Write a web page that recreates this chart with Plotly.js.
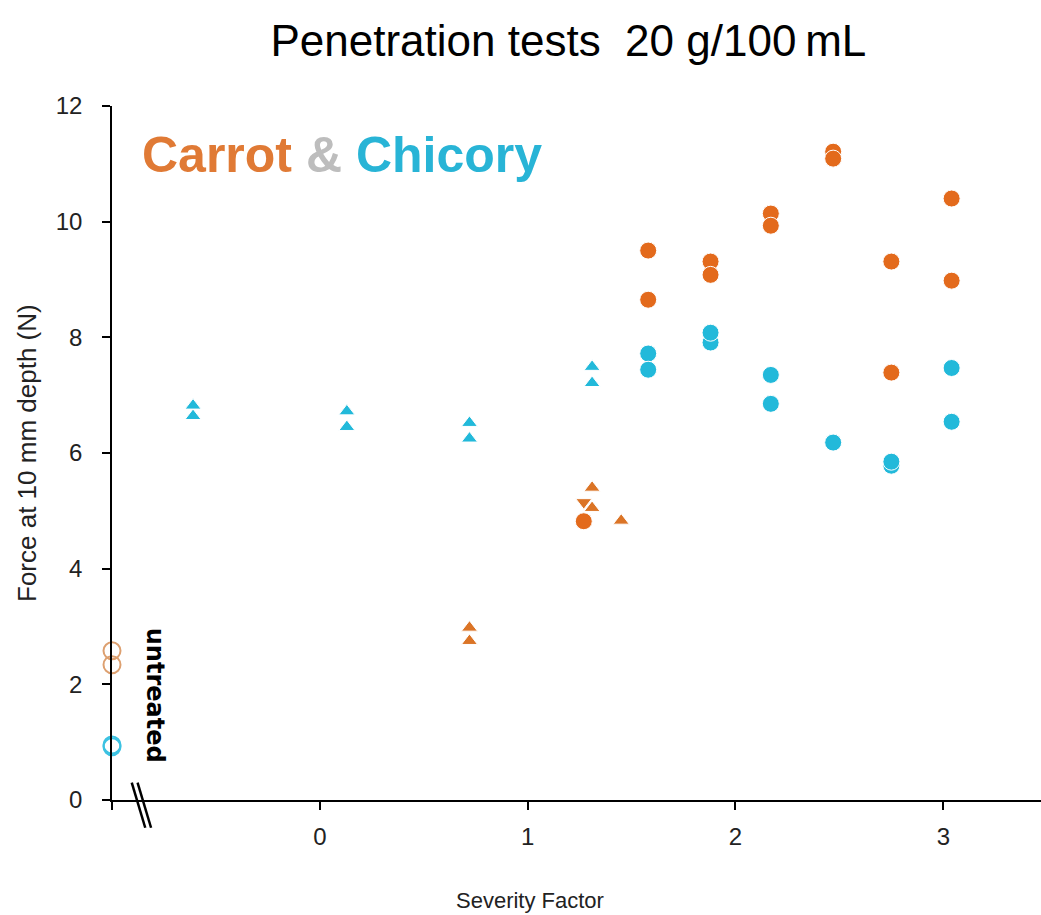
<!DOCTYPE html>
<html>
<head>
<meta charset="utf-8">
<script src="https://cdn.plot.ly/plotly-3.0.1.min.js"></script>
<style>html,body{margin:0;padding:0;background:#fff}#chart{width:1041px;height:915px}</style>
</head>
<body>
<div id="chart"></div>
<script>
// Severity factor (x) and force at 10 mm depth (N) (y)
const chicoryTriX = [-0.61, -0.61, 0.13, 0.13, 0.72, 0.72, 1.31, 1.31];
const chicoryTriY = [6.64, 6.82, 6.45, 6.72, 6.25, 6.52, 7.21, 7.49];

const carrotTriX = [0.72, 0.72, 1.31, 1.31, 1.45];
const carrotTriY = [2.75, 2.98, 5.05, 5.40, 4.83];

const carrotDownX = [1.27];
const carrotDownY = [5.15];

const carrotCircX = [1.27, 1.58, 1.58, 1.88, 1.88, 2.17, 2.17, 2.47, 2.47, 2.75, 2.75, 3.04, 3.04];
const carrotCircY = [4.82, 9.50, 8.65, 9.31, 9.08, 10.14, 9.93, 11.21, 11.09, 9.31, 7.39, 10.40, 8.98];

const chicoryCircX = [1.58, 1.58, 1.88, 1.88, 2.17, 2.17, 2.47, 2.75, 2.75, 3.04, 3.04];
const chicoryCircY = [7.72, 7.44, 7.91, 8.08, 7.35, 6.85, 6.18, 5.78, 5.85, 7.47, 6.54];

const untreatedX = [-1, -1];
const carrotUntreatedY = [2.58, 2.34];
const chicoryUntreatedY = [0.95, 0.92];

const xTickVals = [-1, 0, 1, 2, 3];
const xTickText = ['', '0', '1', '2', '3'];
const yTickVals = [0, 2, 4, 6, 8, 10, 12];

const ORANGE = '#E36A1C';
const ORANGE_TRI = '#DB7426';
const CYAN = '#22B9DA';
const FONT = 'Liberation Sans, Arial, sans-serif';

const whiteEdge = {color: '#ffffff', width: 1};

const traces = [
  {x: chicoryTriX, y: chicoryTriY, mode: 'markers', type: 'scatter', name: 'Chicory (triangles)',
   marker: {symbol: 'triangle-up', size: 14, color: CYAN, line: whiteEdge}},
  {x: carrotTriX, y: carrotTriY, mode: 'markers', type: 'scatter', name: 'Carrot (triangles)',
   marker: {symbol: 'triangle-up', size: 14, color: ORANGE_TRI, line: whiteEdge}},
  {x: carrotDownX, y: carrotDownY, mode: 'markers', type: 'scatter', name: 'Carrot (down)',
   marker: {symbol: 'triangle-down', size: 14, color: ORANGE_TRI, line: whiteEdge}},
  {x: carrotCircX, y: carrotCircY, mode: 'markers', type: 'scatter', name: 'Carrot',
   marker: {symbol: 'circle', size: 17, color: ORANGE, line: whiteEdge}},
  {x: chicoryCircX, y: chicoryCircY, mode: 'markers', type: 'scatter', name: 'Chicory',
   marker: {symbol: 'circle', size: 17, color: CYAN, line: whiteEdge}},
  {x: untreatedX, y: carrotUntreatedY, mode: 'markers', type: 'scatter', name: 'Carrot untreated', cliponaxis: false,
   marker: {symbol: 'circle-open', size: 17, color: '#DDA070', line: {width: 2}}},
  {x: untreatedX, y: chicoryUntreatedY, mode: 'markers', type: 'scatter', name: 'Chicory untreated', cliponaxis: false,
   marker: {symbol: 'circle-open', size: 17, color: '#3CC2E2', line: {width: 2}}}
];

const layout = {
  width: 1041, height: 915,
  margin: {l: 112, r: 0, t: 106, b: 115},
  paper_bgcolor: '#ffffff', plot_bgcolor: '#ffffff',
  showlegend: false,
  font: {family: FONT, color: '#000000'},
  title: {text: 'Penetration tests&nbsp; 20 g/100\u2009mL', font: {family: FONT, size: 44, color: '#000'},
          xref: 'container', yref: 'container', x: 0.546, y: 0.956, xanchor: 'center', yanchor: 'middle'},
  xaxis: {range: [-1, 3.47], showgrid: false, zeroline: false, showline: true, linecolor: '#000', linewidth: 1.5,
          tickmode: 'array', tickvals: xTickVals, ticktext: xTickText, ticks: 'outside', ticklen: 8, tickwidth: 1.5,
          tickcolor: '#000', tickfont: {family: FONT, size: 24, color: '#222'}, ticklabelstandoff: 6,
          title: {text: ''}},
  yaxis: {range: [0, 12], showgrid: false, zeroline: false, showline: true, linecolor: '#000', linewidth: 1.5,
          tickmode: 'array', tickvals: yTickVals, ticks: 'outside', ticklen: 8, tickwidth: 1.5, tickcolor: '#000',
          tickfont: {family: FONT, size: 24, color: '#222'}, ticklabelstandoff: 15, title: {text: ''}},
  annotations: [
    {xref: 'paper', yref: 'paper', x: 0.0, y: 0.93, xanchor: 'left', yanchor: 'middle', xshift: 28, showarrow: false,
     text: '<b><span style="color:#E07A35">Carrot</span> <span style="color:#BDBDBD">&amp;</span> <span style="color:#28B4D6">Chicory</span></b>',
     font: {family: FONT, size: 50}},
    {xref: 'x', yref: 'y', x: -1, y: 1.82, xshift: 43, xanchor: 'center', yanchor: 'middle', showarrow: false, textangle: 90,
     text: '<b>untreated</b>', font: {family: 'DejaVu Sans, sans-serif', size: 24, color: '#000'}},
    {xref: 'paper', yref: 'paper', x: 0.45, y: 0, yshift: -100, xanchor: 'center', yanchor: 'middle', showarrow: false,
     text: 'Severity Factor', font: {family: FONT, size: 22, color: '#222'}},
    {xref: 'paper', yref: 'paper', x: 0, xshift: -85, y: 0.5, xanchor: 'center', yanchor: 'middle', showarrow: false,
     textangle: -90, text: 'Force at 10 mm depth (N)', font: {family: FONT, size: 26, color: '#222'}}
  ],
  shapes: [
    {type: 'line', xref: 'x', yref: 'paper', x0: -0.905, y0: 0.025, x1: -0.84, y1: -0.04, line: {color: '#000', width: 2.5}},
    {type: 'line', xref: 'x', yref: 'paper', x0: -0.877, y0: 0.025, x1: -0.812, y1: -0.04, line: {color: '#000', width: 2.5}}
  ]
};

Plotly.newPlot('chart', traces, layout, {displayModeBar: false, responsive: false});
</script>
</body>
</html>
